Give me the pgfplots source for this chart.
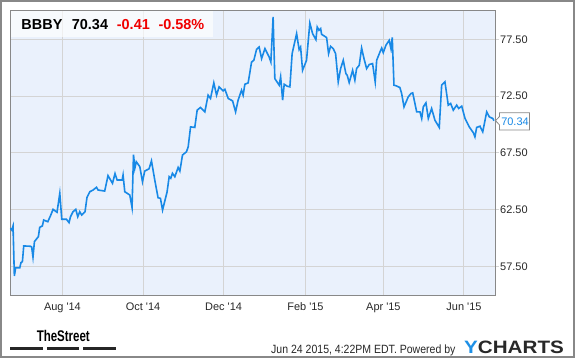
\documentclass[border=0pt]{standalone}
\usepackage{pgfplots}
\pgfplotsset{compat=1.18}
\usepackage{fontspec}
\setmainfont{Liberation Sans}
\definecolor{bgblue}{RGB}{234,241,252}
\definecolor{linecol}{RGB}{24,137,230}
\definecolor{gridc}{RGB}{212,212,212}
\definecolor{framec}{RGB}{136,136,136}
\definecolor{redc}{RGB}{240,0,0}
\definecolor{ybl}{RGB}{30,144,230}
\definecolor{dark}{RGB}{40,40,40}
\pgfplotstableread{
day val
-39.4 60.87
-38.4 60.72
-37.4 61.08
-36.4 56.68
-35.4 57.41
-32.3 57.39
-31.4 57.85
-30.3 57.94
-29.3 59.32
-24.2 59.29
-23.3 59.23
-22.3 58.33
-21.2 59.70
-18.2 60.14
-17.2 60.96
-15.2 61.08
-14.2 61.60
-11.1 61.45
-9.1 61.96
-7.1 62.54
-4.1 62.28
-2.0 63.95
-0.5 61.67
3.0 61.67
5.0 61.37
6.1 61.89
8.0 62.33
10.1 62.54
11.6 61.89
13.1 62.33
14.6 62.04
17.1 62.33
18.6 63.60
20.7 64.09
23.2 64.24
25.8 64.48
27.0 64.24
32.0 64.15
34.5 65.51
37.9 64.83
39.8 65.69
41.4 65.12
45.2 65.12
45.9 65.56
47.2 64.09
51.0 63.80
52.7 62.70
53.8 67.36
54.8 66.15
55.9 66.73
58.6 66.29
60.6 64.97
62.3 65.91
65.6 66.11
67.4 66.81
69.9 65.12
72.4 63.56
74.2 63.51
75.8 62.48
79.2 64.06
80.8 65.41
82.0 65.27
83.3 65.71
85.1 65.41
87.6 66.23
88.9 65.91
90.9 67.32
93.9 67.61
95.2 68.04
97.0 69.80
100.2 69.75
102.0 71.27
104.5 71.51
107.8 71.12
110.3 72.59
112.1 72.30
114.6 73.67
116.7 72.59
118.6 73.32
121.7 72.97
123.0 73.11
125.5 72.30
128.8 72.09
131.1 71.12
133.0 72.15
135.6 73.03
136.8 72.59
138.1 73.55
140.6 73.67
143.2 75.51
144.9 75.66
147.0 76.63
148.9 76.83
150.8 75.81
153.3 76.69
156.5 75.95
157.8 75.51
159.5 79.47
160.8 74.05
164.1 73.47
165.2 74.20
166.7 72.15
167.9 73.55
170.2 73.38
172.2 73.32
173.9 76.25
177.3 78.01
179.2 76.60
180.3 76.83
181.8 74.78
184.8 75.66
187.3 78.94
189.4 78.01
191.9 77.48
192.9 78.59
194.2 78.30
195.5 78.45
196.2 77.95
200.0 77.66
201.5 76.25
203.0 76.89
205.0 76.69
206.8 76.25
208.8 73.76
210.6 74.93
212.6 75.66
214.6 74.49
215.6 74.34
217.1 73.70
219.7 74.78
221.4 73.91
222.7 74.93
224.7 75.22
226.5 76.74
228.3 75.81
230.3 74.93
232.3 75.29
234.8 75.37
236.8 73.76
237.9 75.66
240.4 76.39
241.7 76.74
242.9 76.34
244.9 76.98
247.4 77.42
248.7 76.69
249.7 77.68
251.0 73.47
253.0 73.40
255.5 73.26
256.8 72.74
258.6 71.56
261.8 72.44
263.9 72.74
265.2 72.79
268.2 71.12
270.7 71.12
272.0 70.54
273.2 71.56
275.2 71.91
277.0 70.54
279.5 71.42
282.0 70.39
285.3 69.75
287.1 73.47
289.6 73.76
292.1 71.71
293.9 71.86
295.9 71.27
298.5 71.71
300.0 71.42
302.3 71.62
304.8 70.54
308.0 69.80
311.1 69.28
312.3 68.92
313.6 69.75
316.1 69.86
318.2 69.36
321.2 71.12
323.2 70.68
325.8 70.54
326.7 70.34
}\bbby
\begin{document}
\begin{tikzpicture}[x=1bp,y=1bp]
\useasboundingbox (0,0) rectangle (575,358);
\fill[white] (0,0) rectangle (575,358);
\begin{axis}[
  at={(10bp,63bp)}, anchor=south west,
  scale only axis, width=485bp, height=284bp,
  xmin=-39.7, xmax=327.5, ymin=55, ymax=80,
  axis background/.style={fill=bgblue},
  axis line style={draw=framec, line width=1bp},
  xtick={0,61,122,184,243,304},
  xticklabels={Aug \textquotesingle14, Oct \textquotesingle14, Dec \textquotesingle14, Feb \textquotesingle15, Apr \textquotesingle15, Jun \textquotesingle15},
  ytick={57.5,62.5,67.5,72.5,77.5},
  yticklabel pos=right, ytick pos=right, xtick pos=bottom,
  tick align=outside,
  major tick length=4bp,
  xtick style={draw=none},
  ytick style={draw=gridc, line width=1bp},
  grid=major,
  major grid style={draw=gridc, line width=1bp},
  yticklabel={\pgfmathprintnumber[fixed,fixed zerofill,precision=2]{\tick}},
  /pgf/number format/assume math mode=true,
  tick label style={font=\fontsize{11}{13}\selectfont, text=dark},
  xticklabel style={anchor=base, yshift=-11bp, inner sep=0pt},
  yticklabel style={anchor=west, inner sep=0pt, xshift=1bp},
  clip=false,
]
\addplot[color=linecol, line width=1.6bp, mark=none] table[x=day, y=val] {\bbby};
\end{axis}
% header box
\fill[white, opacity=0.65] (10.5,320.7) rectangle (212.7,346.5);
\node[anchor=base west, inner sep=0, font=\fontsize{14.5}{16}\selectfont\bfseries] at (21.3,329) {BBBY};
\node[anchor=base west, inner sep=0, font=\fontsize{14.5}{16}\selectfont\bfseries] at (71.7,329) {70.34};
\node[anchor=base west, inner sep=0, text=redc, font=\fontsize{14.5}{16}\selectfont\bfseries] at (116.7,329) {-0.41};
\node[anchor=base west, inner sep=0, text=redc, font=\fontsize{14.5}{16}\selectfont\bfseries] at (158.3,329) {-0.58\%};
% callout
\draw[framec, fill=white, line width=0.8bp] (495.5,237.3) -- (499.5,241.5) -- (499.5,245.3) -- (529.5,245.3) -- (529.5,228) -- (499.5,228) -- (499.5,233.1) -- cycle;
\node[text=linecol, inner sep=0, font=\fontsize{11}{13}\selectfont] at (515,236.6) {70.34};
% footer
\node[anchor=base, inner sep=0] at (63.3,17) {\scalebox{0.745}[1]{\fontsize{15.5}{16}\selectfont\bfseries TheStreet}};
\fill[black!85] (10,7.7) rectangle (42.7,11);
\fill[black!85] (46.7,7.7) rectangle (79.3,11);
\fill[black!85] (83.3,7.7) rectangle (116,11);
\node[anchor=base west, inner sep=0, text=dark] at (271,4.5) {\scalebox{0.88}[1]{\fontsize{12}{14}\selectfont Jun 24 2015, 4:22PM EDT. Powered by}};
\node[anchor=base west, inner sep=0] at (464,4.3) {\scalebox{1.15}[1]{\fontsize{18}{20}\selectfont\bfseries\textcolor{ybl}{Y}\textcolor{dark}{CHARTS}}};
% outer frame
\draw[framec, line width=2bp] (1,1) rectangle (574,357);
\end{tikzpicture}
\end{document}
